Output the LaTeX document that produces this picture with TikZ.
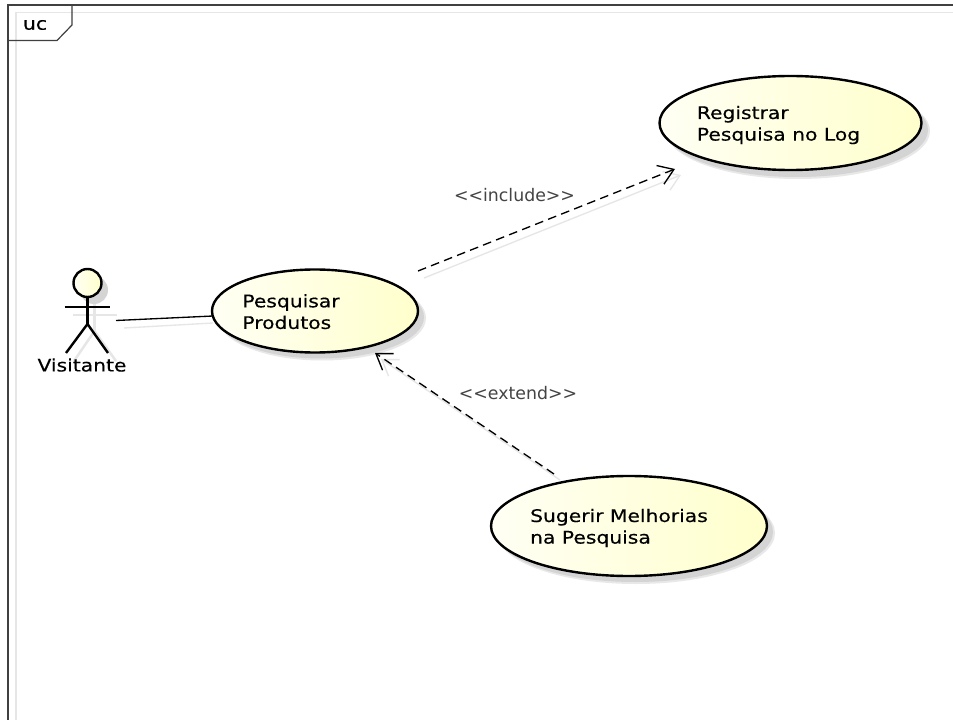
\documentclass[tikz,border=0pt]{standalone}
\usepackage{fontspec}
\setmainfont{DejaVu Sans}
\newfontfamily\ucfont[FakeStretch=1.17,FakeBold=0.35]{DejaVu Sans}
\usetikzlibrary{shapes.geometric,arrows.meta}
\definecolor{ucfill}{HTML}{FFFFCC}
\definecolor{ucpale}{HTML}{FFFFF4}
\definecolor{shadowline}{HTML}{E6E6E6}
\definecolor{shadowfill}{HTML}{D4D4D4}
\definecolor{shadowsoft}{HTML}{E8E8E8}
\definecolor{labelgrey}{HTML}{444444}
\tikzset{
  x=0.75pt,y=-0.75pt,
  usecase/.style={ellipse,draw=black,line width=1.8pt,left color=ucpale,right color=ucfill,inner sep=0pt},
  ushadow/.style={ellipse,fill=shadowfill,inner sep=0pt},
  ushadowsoft/.style={ellipse,fill=shadowsoft,inner sep=0pt},
  uctext/.style={font=\ucfont\fontsize{13pt}{16.2pt}\selectfont,align=left,text=black,inner sep=0pt},
  stereo/.style={font=\fontsize{13pt}{15pt}\selectfont,text=labelgrey,inner sep=0pt},
  limb/.style={draw=black,line width=1.8pt},
  limbshadow/.style={draw=shadowline,line width=1.8pt},
  assoc/.style={draw=black,line width=1pt},
  assocshadow/.style={draw=shadowline,line width=1pt},
  dep/.style={draw=black,line width=1pt,dash pattern=on 6.5pt off 4pt,-{Straight Barb[length=11pt,width=15pt,line width=1pt]}},
  depshadow/.style={draw=shadowline,line width=1pt,-{Straight Barb[length=11pt,width=15pt,line width=1pt]}},
}
\begin{document}
\begin{tikzpicture}
\useasboundingbox (0,0) rectangle (953,720);
\clip (0,0) rectangle (953,720);
\fill[white] (0,0) rectangle (953,720);
% frame
\draw[shadowline,line width=0.9pt] (953,12.5) -- (16,12.5) -- (16,720);
\draw[black!75,line width=0.9pt] (953,5) -- (8,5) -- (8,720);
\draw[black!75,line width=0.9pt] (8,40.5) -- (57,40.5) -- (72,25) -- (72,5);
\node[uctext] (frameTitle) at (35,25) {uc};
% shadows of use cases
\node[ushadowsoft,minimum width=264*0.75pt,minimum height=96*0.75pt] (regS2) at (798,131) {};
\node[ushadow,minimum width=262*0.75pt,minimum height=94*0.75pt] (regS) at (797,130) {};
\node[ushadowsoft,minimum width=208*0.75pt,minimum height=85*0.75pt] (pesS2) at (322,318) {};
\node[ushadow,minimum width=206*0.75pt,minimum height=83*0.75pt] (pesS) at (321,317) {};
\node[ushadowsoft,minimum width=278*0.75pt,minimum height=102*0.75pt] (sugS2) at (636,533) {};
\node[ushadow,minimum width=276*0.75pt,minimum height=100*0.75pt] (sugS) at (635,532) {};
% use cases
\node[usecase,minimum width=262*0.75pt,minimum height=94*0.75pt,
  label={[uctext,xshift=-9pt,yshift=-1.5pt]center:Registrar\\Pesquisa no Log}] (reg) at (790.5,123) {};
\node[usecase,minimum width=206*0.75pt,minimum height=83*0.75pt,
  label={[uctext,xshift=-18pt,yshift=-0.5pt]center:Pesquisar\\Produtos}] (pes) at (315,311) {};
\node[usecase,minimum width=276*0.75pt,minimum height=100*0.75pt,
  label={[uctext,xshift=-7.5pt,yshift=-1.5pt]center:Sugerir Melhorias\\na Pesquisa}] (sug) at (629,526) {};
% actor shadow
\fill[shadowfill] (94,290) circle[radius=14];
\draw[limbshadow] (94.5,304) -- (94.5,331);
\draw[limbshadow] (73,315) -- (117,315);
\draw[limbshadow] (94.5,331) -- (74,361);
\draw[limbshadow] (94.5,331) -- (116,361);
% actor
\node[circle,draw=black,line width=1.8pt,left color=ucpale,right color=ucfill,minimum size=28*0.75pt,inner sep=0pt] (head) at (87.5,283) {};
\coordinate (hip) at (87.5,324);
\coordinate (armL) at (64.5,307);
\coordinate (armR) at (109.5,307);
\coordinate (footL) at (66,353);
\coordinate (footR) at (108,353);
\draw[limb] (head.south) -- (hip);
\draw[limb] (armL) -- (armR);
\draw[limb] (footL) -- (hip) -- (footR);
\node[uctext] (visit) at (82,365) {Visitante};
% association
\coordinate (actorEnd) at (116,320.5);
\coordinate (actorEndS) at (124,328);
\coordinate (pesIn) at (213,316);
\coordinate (pesInS) at (213,323);
\draw[assocshadow] (actorEndS) -- (pesInS);
\draw[assoc] (actorEnd) -- (pesIn);
% include
\coordinate (incStart) at (418,271);
\coordinate (incEnd) at (675,169);
\coordinate (incStartS) at (424,278);
\coordinate (incEndS) at (681,175);
\draw[depshadow] (incStartS) -- (incEndS);
\draw[dep] (incStart) -- (incEnd);
\node[stereo] (incLabel) at (514.5,195.5) {<{}<include>{}>};
% extend
\coordinate (extStart) at (554,474);
\coordinate (extEnd) at (375,353);
\coordinate (extStartS) at (560,480);
\coordinate (extEndS) at (381,359);
\draw[depshadow] (extStartS) -- (extEndS);
\draw[dep] (extStart) -- (extEnd);
\node[stereo] (extLabel) at (518,393.5) {<{}<extend>{}>};
\end{tikzpicture}
\end{document}
